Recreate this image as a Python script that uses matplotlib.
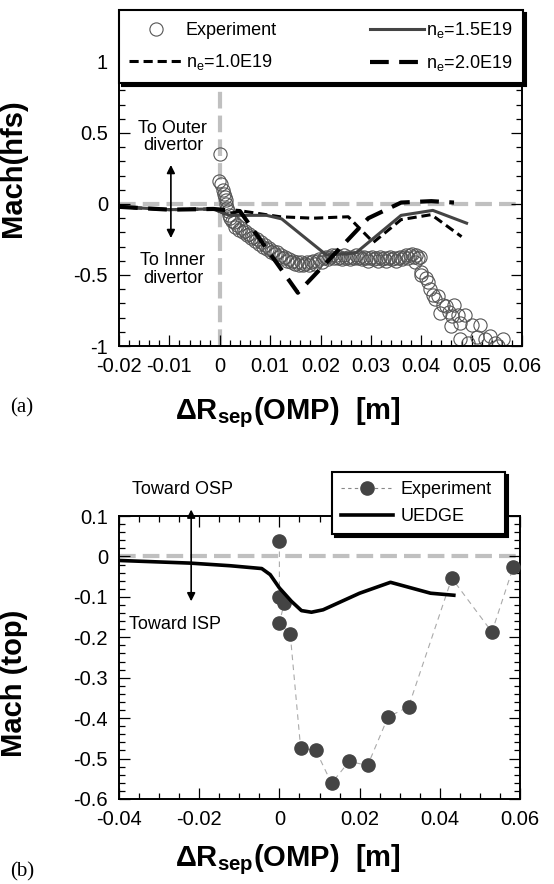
import matplotlib
matplotlib.use('Agg')
import matplotlib.pyplot as plt
from matplotlib.lines import Line2D
from matplotlib.ticker import MultipleLocator, FuncFormatter

plt.rcParams['font.family'] = ['Liberation Sans', 'DejaVu Sans']
plt.rcParams['mathtext.fontset'] = 'custom'
plt.rcParams['mathtext.rm'] = 'Liberation Sans'
plt.rcParams['mathtext.bf'] = 'Liberation Sans:bold'
plt.rcParams['mathtext.it'] = 'Liberation Sans:italic'
plt.rcParams['axes.unicode_minus'] = False

# ---------------- data: panel (a) ----------------
exp_a_x = [0.0000, -0.0002, 0.0002, 0.0006, 0.0008, 0.0010, 0.0012, 0.0012, 0.0014, 0.0016,
           0.0018, 0.0020, 0.0024, 0.0028, 0.0030, 0.0034, 0.0038, 0.0042, 0.0046, 0.0050,
           0.0054, 0.0058, 0.0062, 0.0066, 0.0070, 0.0074, 0.0078, 0.0082, 0.0086, 0.0090,
           0.0094, 0.0098, 0.0102, 0.0106, 0.0110, 0.0114, 0.0118, 0.0122, 0.0126, 0.0130,
           0.0134, 0.0138, 0.0142, 0.0146, 0.0150, 0.0154, 0.0158, 0.0162, 0.0166, 0.0170,
           0.0174, 0.0178, 0.0182, 0.0186, 0.0190, 0.0194, 0.0198, 0.0202, 0.0206, 0.0210,
           0.0214, 0.0218, 0.0222, 0.0226, 0.0230, 0.0234, 0.0238, 0.0242, 0.0246, 0.0250,
           0.0254, 0.0258, 0.0262, 0.0266, 0.0270, 0.0274, 0.0278, 0.0282, 0.0286, 0.0290,
           0.0294, 0.0298, 0.0302, 0.0306, 0.0310, 0.0314, 0.0318, 0.0322, 0.0326, 0.0330,
           0.0334, 0.0338, 0.0342, 0.0346, 0.0350, 0.0354, 0.0358, 0.0362, 0.0366, 0.0370,
           0.0374, 0.0378, 0.0382, 0.0386, 0.0390, 0.0394, 0.0398,
           0.0387, 0.0400, 0.0400, 0.0410, 0.0413, 0.0417, 0.0423, 0.0427, 0.0433, 0.0437,
           0.0443, 0.0450, 0.0456, 0.0460, 0.0462, 0.0466, 0.0472, 0.0476, 0.0476, 0.0486,
           0.0492, 0.0500, 0.0510, 0.0516, 0.0526, 0.0536, 0.0546, 0.0553, 0.0562]
exp_a_y = [0.35, 0.16, 0.14, 0.10, 0.07, 0.05, 0.03, 0.00, -0.03, -0.05,
           -0.08, -0.10, -0.12, -0.13, -0.16, -0.15, -0.18, -0.17, -0.20, -0.19,
           -0.22, -0.21, -0.24, -0.23, -0.26, -0.25, -0.28, -0.27, -0.30, -0.29,
           -0.32, -0.31, -0.34, -0.33, -0.35, -0.34, -0.37, -0.36, -0.38, -0.37,
           -0.40, -0.39, -0.41, -0.40, -0.42, -0.41, -0.43, -0.41, -0.43, -0.42,
           -0.41, -0.43, -0.41, -0.40, -0.42, -0.40, -0.39, -0.41, -0.38, -0.37,
           -0.39, -0.37, -0.36, -0.38, -0.36, -0.38, -0.37, -0.39, -0.36, -0.38,
           -0.37, -0.39, -0.37, -0.38, -0.36, -0.38, -0.37, -0.39, -0.37, -0.38,
           -0.40, -0.38, -0.37, -0.39, -0.38, -0.40, -0.37, -0.39, -0.38, -0.40,
           -0.38, -0.37, -0.39, -0.38, -0.40, -0.38, -0.37, -0.39, -0.37, -0.36,
           -0.38, -0.36, -0.35, -0.37, -0.36, -0.38, -0.37,
           -0.41, -0.48, -0.50, -0.52, -0.55, -0.60, -0.64, -0.67, -0.65, -0.77,
           -0.71, -0.72, -0.76, -0.86, -0.79, -0.71, -0.78, -0.84, -0.95, -0.78,
           -0.98, -0.85, -0.94, -0.85, -0.95, -0.93, -0.98, -1.00, -0.95]

ne10_x = [-0.020, -0.010, -0.0013, 0.0013, 0.0045, 0.0120, 0.0185, 0.0255, 0.0305, 0.0360, 0.0420, 0.0480]
ne10_y = [-0.02, -0.04, -0.035, -0.07, -0.05, -0.09, -0.10, -0.09, -0.27, -0.11, -0.075, -0.23]

ne15_x = [-0.020, -0.010, -0.0013, 0.0020, 0.0093, 0.0123, 0.0212, 0.0270, 0.0360, 0.0423, 0.0490]
ne15_y = [-0.02, -0.04, -0.035, -0.08, -0.08, -0.105, -0.36, -0.345, -0.08, -0.045, -0.135]

ne20_x = [-0.020, -0.010, -0.0013, 0.0040, 0.0155, 0.0255, 0.0295, 0.0360, 0.0420, 0.0465]
ne20_y = [-0.02, -0.04, -0.035, -0.05, -0.625, -0.25, -0.10, 0.01, 0.02, 0.01]

# ---------------- data: panel (b) ----------------
exp_b_x = [0.0000, 0.0000, 0.0012, 0.0000, 0.0027, 0.0053, 0.0091, 0.0130, 0.0174, 0.0220,
           0.0271, 0.0322, 0.0430, 0.0530, 0.0583]
exp_b_y = [0.037, -0.101, -0.115, -0.165, -0.192, -0.474, -0.480, -0.561, -0.507, -0.517,
           -0.397, -0.372, -0.054, -0.187, -0.027]

uedge_x = [-0.040, -0.0223, -0.0123, -0.0044, -0.0023, 0.0000, 0.0030, 0.0055, 0.0080, 0.0109,
           0.0200, 0.0277, 0.0377, 0.0435]
uedge_y = [-0.010, -0.0165, -0.023, -0.030, -0.045, -0.078, -0.111, -0.134, -0.138, -0.132,
           -0.091, -0.064, -0.091, -0.096]

# ---------------- figure ----------------
W, H = 554, 884
fig = plt.figure(figsize=(W / 100, H / 100), dpi=100)

def px_axes(l, t, r, b):
    return fig.add_axes([l / W, 1 - b / H, (r - l) / W, (b - t) / H])

ax1 = px_axes(119, 10, 522, 346)
ax2 = px_axes(119, 516, 520, 799)

def fmt(v, pos):
    if abs(v) < 1e-12:
        return '0'
    return f'{v:g}'

TICK_FS = 14.5
LAB_FS = 21
LEG_FS = 13
GRAY0 = '#c0c0c0'

for ax in (ax1, ax2):
    ax.tick_params(which='both', direction='in', top=True, right=True, width=0.9,
                   labelsize=TICK_FS, pad=8)
    ax.tick_params(which='major', length=8)
    ax.tick_params(which='minor', length=4.5)
    for s in ax.spines.values():
        s.set_linewidth(1.4)
    ax.xaxis.set_major_formatter(FuncFormatter(fmt))
    ax.yaxis.set_major_formatter(FuncFormatter(fmt))

# ---- panel (a)
ax1.set_xlim(-0.02, 0.06)
ax1.set_ylim(-1.0, 1.366)
ax1.xaxis.set_major_locator(MultipleLocator(0.01))
ax1.xaxis.set_minor_locator(MultipleLocator(0.002))
ax1.yaxis.set_major_locator(MultipleLocator(0.5))
ax1.yaxis.set_minor_locator(MultipleLocator(0.1))

ax1.axhline(0, color=GRAY0, lw=3, ls=(0, (4, 1.7)), zorder=1)
ax1.axvline(0, color=GRAY0, lw=3, ls=(0, (4, 1.7)), zorder=1)

ax1.plot(exp_a_x, exp_a_y, ls='none', marker='o', ms=9.5, mfc='none', mec='#555555',
         mew=0.8, zorder=2)
l10, = ax1.plot(ne10_x, ne10_y, color='k', lw=2.2, ls=(0, (3, 1.6)), zorder=3)
l15, = ax1.plot(ne15_x, ne15_y, color='#444444', lw=2.2, ls='-', zorder=3)
l20, = ax1.plot(ne20_x, ne20_y, color='k', lw=3, ls=(0, (4.5, 2.5)), zorder=3)

h_exp = Line2D([], [], ls='none', marker='o', ms=9.5, mfc='none', mec='#555555', mew=0.8)
leg1 = ax1.legend([h_exp, l10, l15, l20],
                  ['Experiment', r'n$_\mathregular{e}$=1.0E19',
                   r'n$_\mathregular{e}$=1.5E19', r'n$_\mathregular{e}$=2.0E19'],
                  ncol=2, mode='expand', loc='upper left',
                  bbox_to_anchor=(0.0, 0.5, 1.002, 0.5), borderaxespad=0,
                  fontsize=LEG_FS, handlelength=3.0, handletextpad=0.15,
                  labelspacing=0.75, borderpad=0.55, fancybox=False, framealpha=1,
                  edgecolor='k', shadow={'color': 'k', 'alpha': 1})
leg1.get_frame().set_linewidth(1.5)
leg1.set_zorder(10)

ax1.annotate('', xy=(-0.0097, 0.275), xytext=(-0.0097, -0.24),
             arrowprops=dict(arrowstyle='<|-|>', mutation_scale=12, lw=1.2, color='k',
                             shrinkA=0, shrinkB=0))
ax1.text(-0.0093, 0.47, 'To Outer\ndivertor', ha='center', va='center', fontsize=LEG_FS,
         linespacing=1.0)
ax1.text(-0.0093, -0.46, 'To Inner\ndivertor', ha='center', va='center', fontsize=LEG_FS,
         linespacing=1.1)

ax1.set_ylabel('Mach(hfs)', fontsize=LAB_FS, fontweight='bold')
ax1.yaxis.set_label_coords(-0.228, 0.53)
ax1.set_xlabel(r'ΔR$_\mathbf{sep}$(OMP)  [m]', fontsize=LAB_FS, fontweight='bold')
ax1.xaxis.set_label_coords(0.42, -0.146)

# ---- panel (b)
ax2.set_xlim(-0.04, 0.06)
ax2.set_ylim(-0.6, 0.1)
ax2.xaxis.set_major_locator(MultipleLocator(0.02))
ax2.xaxis.set_minor_locator(MultipleLocator(0.005))
ax2.yaxis.set_major_locator(MultipleLocator(0.1))
ax2.yaxis.set_minor_locator(MultipleLocator(0.02))

ax2.axhline(0, color=GRAY0, lw=3, ls=(0, (4, 1.7)), zorder=1)
ep, = ax2.plot(exp_b_x, exp_b_y, color='#aaaaaa', lw=0.8, ls=(0, (5, 4)), marker='o',
               ms=9.5, mfc='#444444', mec='#444444', zorder=3)
ue, = ax2.plot(uedge_x, uedge_y, color='k', lw=2.6, zorder=4)

h_ep = Line2D([], [], color='#888888', lw=0.8, ls=(0, (3, 3)), marker='o', ms=9.5,
              mfc='#444444', mec='#444444')
leg2 = ax2.legend([h_ep, ue], ['Experiment', 'UEDGE'], loc='upper left', mode='expand',
                  bbox_to_anchor=(0.531, 1.155, 0.432, 0.0), borderaxespad=0,
                  fontsize=LEG_FS, handlelength=2.9, handletextpad=0.4, labelspacing=0.55,
                  borderpad=0.5, fancybox=False, framealpha=1, edgecolor='k',
                  shadow={'color': 'k', 'alpha': 1})
leg2.get_frame().set_linewidth(1.5)
leg2.set_zorder(10)

ax2.annotate('', xy=(-0.0220, 0.116), xytext=(-0.0220, -0.111),
             arrowprops=dict(arrowstyle='<|-|>', mutation_scale=12, lw=1.2, color='k',
                             shrinkA=0, shrinkB=0), annotation_clip=False)
ax2.text(-0.0368, 0.166, 'Toward OSP', ha='left', va='center', fontsize=LEG_FS)
ax2.text(-0.0375, -0.168, 'Toward ISP', ha='left', va='center', fontsize=LEG_FS)

ax2.set_ylabel('Mach (top)', fontsize=LAB_FS, fontweight='bold')
ax2.yaxis.set_label_coords(-0.228, 0.41)
ax2.set_xlabel(r'ΔR$_\mathbf{sep}$(OMP)  [m]', fontsize=LAB_FS, fontweight='bold')
ax2.xaxis.set_label_coords(0.42, -0.152)

fig.text(22 / W, 1 - 408 / H, '(a)', family='Liberation Serif', fontsize=15,
         ha='center', va='center')
fig.text(22 / W, 1 - 872 / H, '(b)', family='Liberation Serif', fontsize=15,
         ha='center', va='center')

fig.savefig('out.png', dpi=100)
